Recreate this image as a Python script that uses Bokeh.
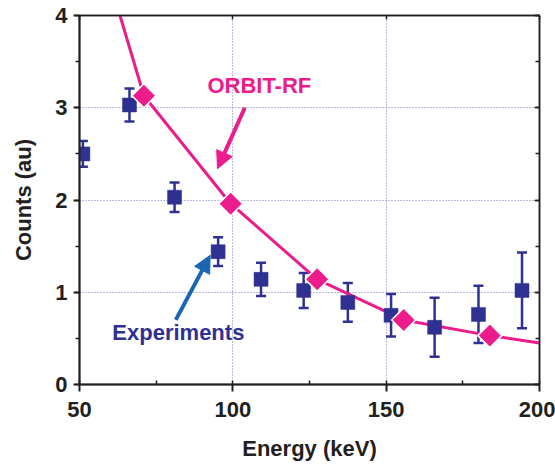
from bokeh.plotting import figure
from bokeh.models import (ColumnDataSource, Whisker, TeeHead, Arrow, NormalHead,
                          LinearAxis, Range1d, Label, FixedTicker, SingleIntervalTicker,
                          CustomJSTickFormatter)
from bokeh.embed import file_html
from bokeh.resources import INLINE
import math

# Measured spectrum (squares with error bars)
exp_energy = [51.1, 66.3, 81.0, 95.2, 109.2, 123.1, 137.5, 151.6, 165.8, 180.1, 194.3]
exp_counts = [2.50, 3.03, 2.03, 1.44, 1.14, 1.02, 0.89, 0.75, 0.62, 0.76, 1.02]
exp_err = [0.14, 0.18, 0.16, 0.155, 0.18, 0.19, 0.21, 0.23, 0.32, 0.31, 0.41]

# ORBIT-RF simulation points
sim_energy = [71.0, 99.3, 127.5, 155.7, 183.8]
sim_counts = [3.13, 1.96, 1.14, 0.70, 0.53]

# ORBIT-RF curve, including its ends at the frame
curve_energy = [63.2, 71.0, 99.3, 127.5, 155.7, 183.8, 200.0]
curve_counts = [4.00, 3.13, 1.96, 1.14, 0.70, 0.53, 0.45]

FONT = "Liberation Sans Narrow, Liberation Sans, Arial Narrow, sans-serif"
BLUE = "#2e3192"
PINK = "#ec1c8c"
ARROW_BLUE = "#1a66b0"
GRID = "#5a5eb5"

p = figure(width=555, height=467, output_backend="svg", toolbar_location=None,
           x_range=Range1d(50, 200), y_range=Range1d(0, 4),
           min_border_left=79, min_border_right=16, min_border_top=15, min_border_bottom=83)
p.background_fill_color = "white"
p.border_fill_color = "white"
p.outline_line_color = "#231f20"
p.outline_line_width = 1.5

p.xaxis.ticker = SingleIntervalTicker(interval=50, num_minor_ticks=2)
p.yaxis.ticker = SingleIntervalTicker(interval=1, num_minor_ticks=2)

p.xgrid.ticker = FixedTicker(ticks=[100, 150])
p.ygrid.ticker = FixedTicker(ticks=[1, 2, 3])
for g in (p.xgrid, p.ygrid):
    g.grid_line_color = GRID
    g.grid_line_dash = "1 2"
    g.grid_line_width = 1.1
    g.grid_line_alpha = 0.85

for ax in (p.xaxis, p.yaxis):
    ax.axis_line_color = "#231f20"
    ax.axis_line_width = 2
    ax.major_tick_line_color = "#231f20"
    ax.minor_tick_line_color = "#231f20"
    ax.major_tick_line_width = 2
    ax.minor_tick_line_width = 1.5
    ax.major_label_text_font = FONT
    ax.major_label_text_font_style = "bold"
    ax.major_label_text_font_size = "22px"
    ax.major_label_text_color = "#231f20"
    ax.axis_label_text_font = FONT
    ax.axis_label_text_font_style = "bold"
    ax.axis_label_text_font_size = "22px"
    ax.axis_label_text_color = "#231f20"

p.xaxis.axis_label = "Energy (keV)"
p.yaxis.axis_label = "Counts (au)"
p.xaxis.major_tick_out = 7
p.xaxis.major_tick_in = 0
p.xaxis.minor_tick_in = 4
p.xaxis.minor_tick_out = 0
p.xaxis.major_label_standoff = 10
p.xaxis.axis_label_standoff = 16
p.yaxis.major_tick_out = 6
p.yaxis.major_tick_in = 0
p.yaxis.minor_tick_out = 4
p.yaxis.minor_tick_in = 0
p.yaxis.major_label_standoff = 6
p.yaxis.axis_label_standoff = 16

# Tick marks on the top and right edges of the frame (no labels there)
blank = CustomJSTickFormatter(code="return ''")
top = LinearAxis(ticker=SingleIntervalTicker(interval=50, num_minor_ticks=0),
                 formatter=blank,
                 major_tick_in=4, major_tick_out=0, minor_tick_in=0, minor_tick_out=0,
                 major_label_standoff=0,
                 axis_line_color="#231f20", axis_line_width=1.5,
                 major_tick_line_color="#231f20", major_tick_line_width=1.5)
right = LinearAxis(ticker=SingleIntervalTicker(interval=1, num_minor_ticks=2),
                   formatter=blank,
                   major_tick_in=5, major_tick_out=0, minor_tick_in=4, minor_tick_out=0,
                   major_label_standoff=0,
                   axis_line_color="#231f20", axis_line_width=1.5,
                   major_tick_line_color="#231f20", major_tick_line_width=1.5,
                   minor_tick_line_color="#231f20", minor_tick_line_width=1.5)
p.add_layout(top, "above")
p.add_layout(right, "right")

# Simulation curve
p.line(curve_energy, curve_counts, line_color=PINK, line_width=3)

# Experimental data with error bars
exp_src = ColumnDataSource(dict(
    x=exp_energy, y=exp_counts,
    lo=[c - e for c, e in zip(exp_counts, exp_err)],
    hi=[c + e for c, e in zip(exp_counts, exp_err)],
))
p.add_layout(Whisker(source=exp_src, base="x", lower="lo", upper="hi",
                     line_color=BLUE, line_width=2.5,
                     upper_head=TeeHead(size=10, line_color=BLUE, line_width=2.5),
                     lower_head=TeeHead(size=10, line_color=BLUE, line_width=2.5)))
p.scatter("x", "y", source=exp_src, marker="square", size=14,
          fill_color=BLUE, line_color=BLUE, line_width=0.5)

# Simulation points as diamonds with a white rim
p.scatter(sim_energy, sim_counts, marker="square", angle=math.pi / 4, size=17,
          fill_color=PINK, line_color="white", line_width=1.5)

# Annotations
p.add_layout(Label(x=91.7, y=3.11, text="ORBIT-RF", text_font=FONT,
                   text_font_style="bold", text_font_size="22px", text_color=PINK))
p.add_layout(Arrow(x_start=103.9, y_start=3.00, x_end=95.0, y_end=2.34,
                   line_color=PINK, line_width=4,
                   end=NormalHead(size=17, fill_color=PINK, line_color=PINK)))
p.add_layout(Label(x=60.7, y=0.43, text="Experiments", text_font=FONT,
                   text_font_style="bold", text_font_size="22px", text_color=BLUE))
p.add_layout(Arrow(x_start=81.4, y_start=0.70, x_end=92.6, y_end=1.40,
                   line_color=ARROW_BLUE, line_width=4,
                   end=NormalHead(size=17, fill_color=ARROW_BLUE, line_color=ARROW_BLUE)))

open("out.html", "w").write(file_html(p, INLINE))
